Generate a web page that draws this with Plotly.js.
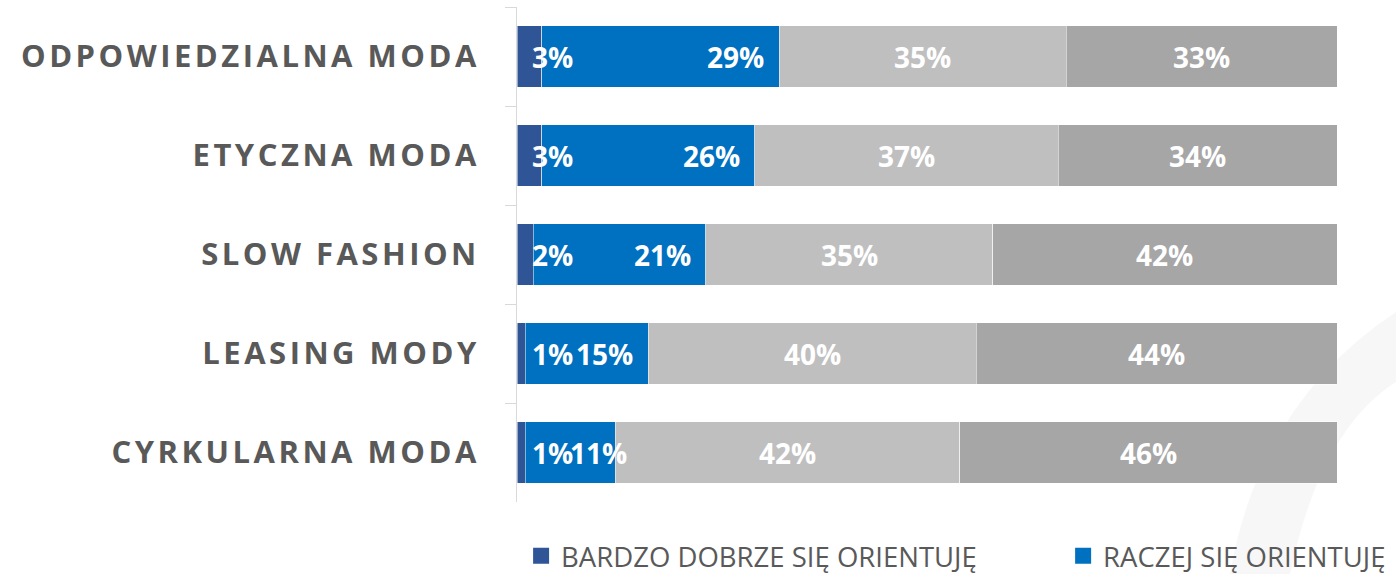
<!DOCTYPE html>
<html>
<head>
<meta charset="utf-8">
<script src="https://cdn.plot.ly/plotly-3.0.1.min.js"></script>
<style>
  html, body { margin:0; padding:0; background:#fff; }
  #chart { width:1396px; height:574px; }
  .ytick text { letter-spacing: 3.5px; }
</style>
</head>
<body>
<div id="chart"></div>
<script>
const categories = ["ODPOWIEDZIALNA MODA", "ETYCZNA MODA", "SLOW FASHION", "LEASING MODY", "CYRKULARNA MODA"];
const seriesNames = ["BARDZO DOBRZE SIĘ ORIENTUJĘ", "RACZEJ SIĘ ORIENTUJĘ", "RACZEJ SIĘ NIE ORIENTUJĘ", "ZUPEŁNIE SIĘ NIE ORIENTUJĘ"];
const bardzoDobrze = [3, 3, 2, 1, 1];
const raczej = [29, 26, 21, 15, 11];
const raczejNie = [35, 37, 35, 40, 42];
const zupelnieNie = [33, 34, 42, 44, 46];
const seriesValues = [bardzoDobrze, raczej, raczejNie, zupelnieNie];
const colors = ["#2F5597", "#0070C0", "#BFBFBF", "#A6A6A6"];

// bars
const traces = seriesValues.map((vals, i) => ({
  type: "bar",
  orientation: "h",
  name: seriesNames[i],
  y: categories,
  x: vals,
  marker: { color: colors[i], line: { color: "rgba(255,255,255,0.5)", width: 1 } },
  hoverinfo: "skip",
  showlegend: false
}));

// legend entries (only the two visible in the reference frame)
const legendIds = ["legend", "legend2"];
legendIds.forEach((lid, i) => {
  traces.push({
    type: "scatter", mode: "markers",
    name: seriesNames[i],
    x: [null], y: [null],
    marker: { symbol: "square", size: 16, color: colors[i], line: { width: 0 } },
    hoverinfo: "skip",
    legend: lid,
    showlegend: true
  });
});

// data labels
const PLOT_W = 820, RANGE = 100;
const pxPerUnit = PLOT_W / RANGE;
const LABEL_PAD = 13;
const charW = 18.7;
const annotations = [];
categories.forEach((cat, ci) => {
  let cum = 0;
  let darkRight = 0;
  seriesValues.forEach((vals, si) => {
    const v = vals[ci];
    const start = cum;
    const end = cum + v;
    cum = end;
    const txt = v + "%";
    const w = txt.length * charW;
    const a = {
      y: cat, yref: "y", xref: "x",
      text: txt,
      showarrow: false,
      font: { family: "Open Sans", size: 28, color: "#FFFFFF", weight: "bold" },
      yanchor: "middle"
    };
    if (si === 0) {
      a.x = start; a.xanchor = "left"; a.xshift = LABEL_PAD;
      darkRight = LABEL_PAD + w;
    } else if (si === 1) {
      const leftIfEnd = end * pxPerUnit - LABEL_PAD - w;
      if (leftIfEnd < darkRight) {
        a.x = 0; a.xanchor = "left"; a.xshift = darkRight + 1;
      } else {
        a.x = end; a.xanchor = "right"; a.xshift = -LABEL_PAD;
      }
    } else {
      a.x = (start + end) / 2; a.xanchor = "center";
    }
    annotations.push(a);
  });
});

const legendBase = {
  orientation: "h",
  y: -0.109, yanchor: "middle",
  font: { family: "Open Sans", size: 27.5, color: "#595959" },
  itemclick: false, itemdoubleclick: false,
  bgcolor: "rgba(0,0,0,0)"
};

const layout = {
  width: 1396, height: 574,
  margin: { l: 517, r: 59, t: 7, b: 72, autoexpand: false },
  paper_bgcolor: "#FFFFFF",
  plot_bgcolor: "rgba(0,0,0,0)",
  barmode: "stack",
  bargap: 0.374,
  font: { family: "Open Sans", color: "#595959" },
  xaxis: { range: [0, RANGE], visible: false, fixedrange: true },
  yaxis: {
    type: "category",
    autorange: "reversed",
    showline: true, linecolor: "#D9D9D9", linewidth: 1,
    ticks: "outside", ticklen: 11, tickcolor: "#D9D9D9", tickwidth: 1,
    tickson: "boundaries",
    showgrid: false, zeroline: false,
    ticklabelstandoff: 30,
    tickfont: { family: "Open Sans", size: 31, color: "#595959", weight: "bold" }
  },
  legend: Object.assign({}, legendBase, { x: 0.005, xanchor: "left" }),
  legend2: Object.assign({}, legendBase, { x: 0.666, xanchor: "left" }),
  shapes: [{
    type: "path", xref: "paper", yref: "paper", layer: "below",
    path: "M 1.0720,0.3838 Q 0.9061,0.2020 0.8695,-0.1455 L 0.9427,-0.1455 Q 0.9793,0.1455 1.0720,0.2424 Z",
    fillcolor: "#F7F7F7", line: { width: 0 }
  }],
  annotations: annotations,
  showlegend: true
};

Plotly.newPlot("chart", traces, layout, { staticPlot: true, displayModeBar: false });
</script>
</body>
</html>
